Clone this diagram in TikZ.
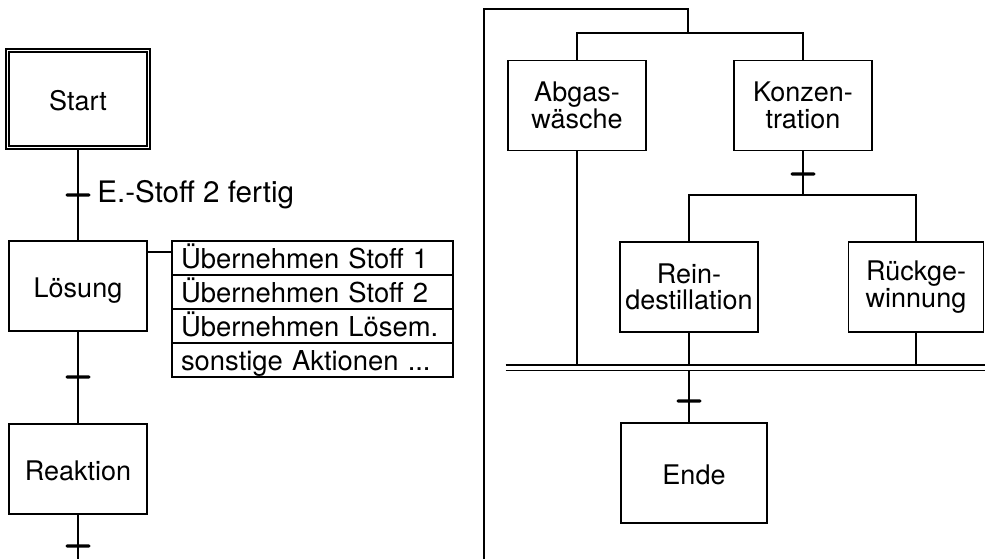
\documentclass[tikz,border=0pt]{standalone}
\usepackage{fontspec}
\setmainfont{TeX Gyre Heros}
\usetikzlibrary{positioning}

\begin{document}
\begin{tikzpicture}[x=0.5pt,y=-0.5pt]
  \tikzset{StepStyle/.style = {
    shape         = rectangle,
    draw          = black,
    fill          = white,
    line width    = 0.9pt,
    text          = black,
    align         = center,
    inner sep     = 0pt,
    minimum width = 69pt,
    minimum height= 45pt,
    font          = \fontsize{13.5}{13.3}\selectfont
    }
  }
  \tikzset{OneLineStyle/.style = {
    text height   = 12pt,
    text depth    = 1pt
    }
  }
  \tikzset{InitStepStyle/.style = {
    StepStyle,
    OneLineStyle,
    line width      = 0.75pt,
    double          = white,
    double distance = 0.8pt,
    minimum width   = 70.5pt,
    minimum height  = 48.5pt
    }
  }
  \tikzset{ActionStyle/.style = {
    shape         = rectangle,
    draw          = black,
    line width    = 0.9pt,
    text width    = 131.5pt,
    align         = left,
    inner xsep    = 4.5pt,
    inner ysep    = 0pt,
    text height   = 11pt,
    text depth    = 1pt,
    minimum height= 17pt,
    font          = \fontsize{13.7}{13.3}\selectfont
    }
  }
  \tikzset{TransStyle/.style = {
    shape         = rectangle,
    fill          = black,
    rounded corners = 0.7pt,
    inner sep     = 0pt,
    minimum width = 12.5pt,
    minimum height= 1.6pt
    }
  }
  \tikzset{SyncStyle/.style = {
    shape         = rectangle,
    inner sep     = 0pt,
    minimum width = 239.5pt,
    minimum height= 2.5pt
    }
  }
  \tikzset{EdgeStyle/.style = {
    draw          = black,
    line width    = 0.9pt
    }
  }
  \tikzset{LabelStyle/.style = {
    inner xsep    = 3pt,
    inner ysep    = 0pt,
    anchor        = west,
    font          = \fontsize{14.8}{15}\selectfont
    }
  }

  \useasboundingbox (0,0) rectangle (985,559);

	\coordinate (C1) at (484, 9);
	\coordinate (C2) at (484, 559);
	\coordinate (C3) at (688, 33);
	\coordinate (C4) at (803, 195);
	\coordinate (C5) at (78, 559);

	\node[InitStepStyle](S1) at (78, 99) {Start};
	\node[StepStyle, OneLineStyle](S2) at (78, 286) {Lösung};
	\node[StepStyle, OneLineStyle](S3) at (78, 469) {Reaktion};
	\node[StepStyle](S4) at (577, 105.5) {Abgas-\\wäsche};
	\node[StepStyle](S5) at (803, 105.5) {Konzen-\\tration};
	\node[StepStyle](S6) at (689, 287) {Rein-\\destillation};
	\node[StepStyle, minimum width=67.5pt](S7) at (916, 287) {Rückge-\\winnung};
	\node[StepStyle, OneLineStyle, minimum width=73pt, minimum height=50pt](S8) at (694, 473) {Ende};

	\node[ActionStyle](A1) at (312.5, 258) {Übernehmen Stoff 1};
	\node[ActionStyle](A2) at (312.5, 292) {Übernehmen Stoff 2};
	\node[ActionStyle](A3) at (312.5, 326) {Übernehmen Lösem.};
	\node[ActionStyle](A4) at (312.5, 360) {sonstige Aktionen ...};

	\node[SyncStyle](Y1) at (745.5, 367.5) {};

	\draw[EdgeStyle](S1) -- (S2);
	\draw[EdgeStyle](S2) -- (S3);
	\draw[EdgeStyle](S3) -- (C5);
	\draw[EdgeStyle]([yshift=3pt]A1.west) -- ([yshift=3pt]A1.west -| S2.east);
	\draw[EdgeStyle](C2) -- (C1) -| (C3);
	\draw[EdgeStyle](S4.north) |- (C3) -| (S5.north);
	\draw[EdgeStyle](S5) -- (C4);
	\draw[EdgeStyle](S6.north) |- (C4) -| (S7.north);
	\draw[EdgeStyle](S4) -- (S4 |- Y1.north);
	\draw[EdgeStyle](S6) -- (S6 |- Y1.north);
	\draw[EdgeStyle](S7) -- (S7 |- Y1.north);
	\draw[EdgeStyle](Y1.north west) -- (Y1.north east) (Y1.south west) -- (Y1.south east);
	\draw[EdgeStyle](Y1.south -| S6) -- (S6 |- S8.north);

	\node[TransStyle](T1) at (78, 195) {};
	\node[TransStyle](T2) at (78, 377) {};
	\node[TransStyle](T3) at (78, 546) {};
	\node[TransStyle](T4) at (803, 174) {};
	\node[TransStyle](T5) at (689, 401) {};
	\node[LabelStyle, right=0pt of T1](L1) {E.-Stoff 2 fertig};

\end{tikzpicture}
\end{document}
